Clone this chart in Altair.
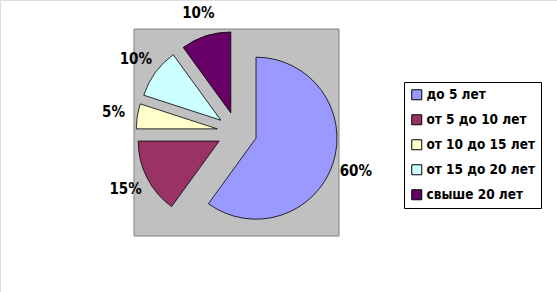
import altair as alt
import pandas as pd

categories = ["до 5 лет", "от 5 до 10 лет", "от 10 до 15 лет", "от 15 до 20 лет", "свыше 20 лет"]
values = [60, 15, 5, 10, 10]
colors = ["#9999FF", "#993366", "#FFFFCC", "#CCFFFF", "#660066"]

df = pd.DataFrame({
    "cat": categories,
    "value": values,
    "order": list(range(len(categories))),
})

CX, CY, EXPLODE, R, LR = 237, 132, 20, 81, 125
FONT = "DejaVu Sans Condensed"

base = alt.Chart(df).transform_window(
    cum="sum(value)", sort=[alt.SortField("order")], frame=[None, 0]
).transform_joinaggregate(total="sum(value)").transform_calculate(
    start="(datum.cum - datum.value) / datum.total * 2 * PI",
    end="datum.cum / datum.total * 2 * PI",
).transform_calculate(
    mid="(datum.start + datum.end) / 2",
).transform_calculate(
    px=f"{CX} + {EXPLODE} * sin(datum.mid)",
    py=f"{CY} - {EXPLODE} * cos(datum.mid)",
    lx=f"{CX} + {LR} * sin(datum.mid)",
    ly=f"{CY} - {LR} * cos(datum.mid)",
    label="datum.value + '%'",
)

bg = alt.Chart(df).mark_rect(fill="#C0C0C0", stroke="#808080", strokeWidth=1).encode(
    x=alt.value(134), x2=alt.value(339), y=alt.value(29), y2=alt.value(236)
).transform_filter("datum.order == 0")

arcs = base.mark_arc(radius=R, stroke="black", strokeWidth=0.8).encode(
    x=alt.X("px:Q", scale=None),
    y=alt.Y("py:Q", scale=None),
    theta=alt.Theta("start:Q", scale=None),
    theta2=alt.Theta2("end:Q"),
    color=alt.Color(
        "cat:N",
        scale=alt.Scale(domain=categories, range=colors),
        sort=categories,
        legend=alt.Legend(
            title=None,
            orient="none",
            legendX=404,
            legendY=82,
            symbolType="square",
            symbolSize=100,
            symbolStrokeColor="black",
            symbolStrokeWidth=1,
            labelFontSize=13.5,
            labelFont=FONT,
            labelFontWeight="bold",
            labelColor="black",
            labelOffset=3,
            rowPadding=10,
            padding=6,
            strokeColor="black",
            fillColor="white",
            labelLimit=300,
        ),
    ),
)

labels = base.mark_text(fontSize=15, font=FONT, fontWeight="bold", color="black").encode(
    x=alt.X("lx:Q", scale=None),
    y=alt.Y("ly:Q", scale=None),
    text="label:N",
)

chart = alt.layer(bg, arcs, labels).properties(
    width=557, height=292, padding=0, autosize=alt.AutoSizeParams(type="none")
).configure_view(strokeWidth=0, stroke="transparent").configure(background="white")

chart.save("out.html", embed_options={"renderer": "svg", "actions": False})
